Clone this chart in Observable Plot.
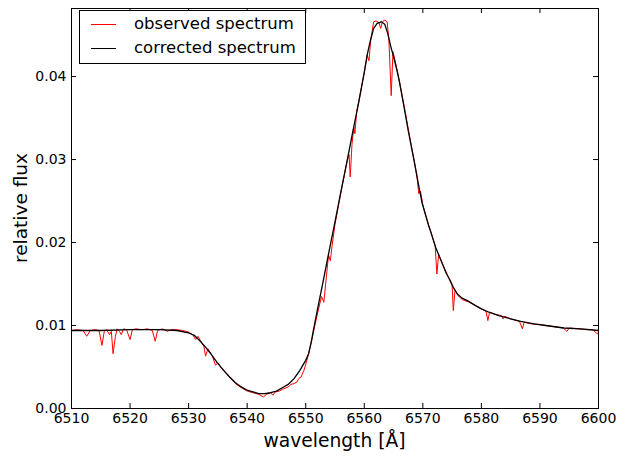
<!DOCTYPE html>
<html>
<head>
<meta charset="utf-8">
<script src="https://cdn.jsdelivr.net/npm/d3@7"></script>
<script src="https://cdn.jsdelivr.net/npm/@observablehq/plot@0.6"></script>
<style>
  html, body { margin: 0; padding: 0; background: white; }
  #wrap { position: relative; width: 626px; height: 456px; font-family: "DejaVu Sans", sans-serif; color: black; }
  #wrap svg { position: absolute; left: 0; top: 0; }
  .lbl { position: absolute; white-space: nowrap; transform: translate(-50%, -50%); line-height: 1; }
  #legend { position: absolute; left: 79px; top: 10px; width: 225px; height: 52px; border: 1px solid black; background: white; }
  .row { position: absolute; left: 0; height: 20px; width: 100%; }
  .swatch { position: absolute; left: 11px; width: 25px; top: 10px; }
  .ltext { position: absolute; left: 54px; top: 0; font-size: 16.5px; line-height: 20px; white-space: nowrap; }
</style>
</head>
<body>
<div id="wrap">
  <div id="legend">
    <div class="row" style="top:3px"><div class="swatch" style="border-top:1px solid #ff0000"></div><div class="ltext">observed spectrum</div></div>
    <div class="row" style="top:27px"><div class="swatch" style="border-top:1.3px solid black"></div><div class="ltext">corrected spectrum</div></div>
  </div>
</div>
<script>
// ---- data ----
const xTicks = [6510, 6520, 6530, 6540, 6550, 6560, 6570, 6580, 6590, 6600];
const yTicks = [0.00, 0.01, 0.02, 0.03, 0.04];
const xLabel = "wavelength [Å]";
const yLabel = "relative flux";
const seriesNames = ["observed spectrum", "corrected spectrum"];

const correctedWl = [6510, 6515, 6520, 6525, 6528, 6530, 6531, 6532, 6533, 6534, 6535, 6536, 6537, 6538, 6539, 6540, 6541, 6542, 6543, 6544, 6545, 6546, 6547, 6548, 6549, 6550, 6550.5, 6551, 6551.3, 6552, 6553, 6554, 6555, 6556, 6557, 6558, 6559, 6560, 6560.5, 6561, 6561.6, 6562.2, 6562.9, 6563.5, 6564, 6564.5, 6565, 6565.6, 6566, 6566.8, 6567.5, 6568.5, 6569.2, 6569.9, 6571, 6571.3, 6572.2, 6573, 6574, 6574.7, 6575.2, 6575.9, 6576.7, 6577.6, 6579, 6580, 6581.3, 6583, 6585, 6586.7, 6589, 6591, 6594.1, 6597, 6600];
const correctedFlux = [0.0094, 0.0094, 0.0095, 0.0095, 0.0094, 0.0091, 0.0088, 0.0081, 0.0073, 0.0064, 0.0054, 0.0046, 0.0038, 0.0031, 0.0026, 0.0022, 0.0020, 0.0018, 0.0018, 0.0019, 0.0021, 0.0025, 0.0029, 0.0036, 0.0046, 0.0058, 0.0066, 0.0082, 0.0094, 0.0119, 0.0154, 0.0190, 0.0225, 0.0261, 0.0296, 0.0332, 0.0367, 0.0405, 0.0426, 0.0442, 0.0458, 0.0464, 0.0466, 0.0463, 0.0452, 0.0437, 0.0424, 0.0407, 0.0394, 0.0363, 0.0335, 0.0299, 0.0272, 0.0247, 0.0220, 0.0214, 0.0194, 0.0180, 0.0163, 0.0154, 0.0146, 0.0138, 0.0133, 0.0130, 0.0124, 0.0120, 0.0116, 0.0112, 0.0108, 0.0105, 0.0102, 0.0100, 0.0097, 0.0096, 0.0094];

const observedWl = [6510, 6511, 6512, 6512.6, 6513.2, 6514, 6514.7, 6515.2, 6515.6, 6516, 6516.5, 6516.8, 6517.1, 6517.5, 6517.8, 6518.2, 6518.5, 6518.9, 6519.4, 6520.0, 6520.4, 6521, 6522, 6523, 6523.8, 6524.3, 6524.7, 6525.5, 6526.4, 6527, 6528, 6529, 6530, 6530.7, 6531.2, 6531.6, 6532, 6532.6, 6532.9, 6533.3, 6534, 6534.6, 6535, 6536, 6537, 6538, 6539, 6540, 6541, 6542, 6542.8, 6543.3, 6544, 6544.4, 6544.8, 6545.5, 6546, 6547, 6547.5, 6548, 6548.5, 6548.8, 6549.2, 6549.7, 6550.2, 6550.8, 6551.5, 6552, 6552.7, 6553.1, 6553.4, 6553.9, 6554.2, 6554.5, 6555, 6556, 6557, 6557.4, 6557.6, 6557.9, 6558.2, 6558.4, 6558.7, 6559, 6560, 6560.5, 6560.8, 6561.1, 6561.6, 6562, 6562.5, 6562.8, 6563.1, 6563.5, 6563.9, 6564.2, 6564.6, 6564.9, 6565.3, 6566, 6567, 6568, 6568.5, 6569, 6569.3, 6569.6, 6570, 6571, 6571.8, 6572.1, 6572.4, 6572.7, 6573.5, 6574.5, 6575.0, 6575.2, 6575.5, 6576, 6576.8, 6578, 6579, 6580, 6580.8, 6581.1, 6581.4, 6582.5, 6583.4, 6583.7, 6584, 6585, 6586.5, 6587.0, 6587.3, 6588.5, 6590, 6592, 6594, 6594.6, 6595, 6596.5, 6598, 6599, 6599.8, 6600];
const observedFlux = [0.0094, 0.0095, 0.0094, 0.0087, 0.0094, 0.0095, 0.0094, 0.0076, 0.0093, 0.0095, 0.0089, 0.0093, 0.0066, 0.0087, 0.0096, 0.0093, 0.0089, 0.0096, 0.0095, 0.0083, 0.0095, 0.0096, 0.0095, 0.0096, 0.0094, 0.0081, 0.0094, 0.0096, 0.0093, 0.0095, 0.0095, 0.0094, 0.0092, 0.0089, 0.0083, 0.0087, 0.0082, 0.0075, 0.0063, 0.0072, 0.0064, 0.0052, 0.0055, 0.0045, 0.0038, 0.0030, 0.0025, 0.0021, 0.0019, 0.0017, 0.0014, 0.0017, 0.0019, 0.0016, 0.0020, 0.0021, 0.0023, 0.0026, 0.0029, 0.0030, 0.0032, 0.0036, 0.0038, 0.0046, 0.0058, 0.0075, 0.0098, 0.0114, 0.0135, 0.0128, 0.0150, 0.0185, 0.0178, 0.0196, 0.0222, 0.0260, 0.0296, 0.0306, 0.0279, 0.0318, 0.0339, 0.0331, 0.0358, 0.0368, 0.0405, 0.0426, 0.0419, 0.0444, 0.0466, 0.0467, 0.0465, 0.0458, 0.0466, 0.0468, 0.0466, 0.0445, 0.0377, 0.0430, 0.0418, 0.0394, 0.0357, 0.0318, 0.0299, 0.0280, 0.0259, 0.0262, 0.0245, 0.0221, 0.0203, 0.0196, 0.0162, 0.0186, 0.0172, 0.0156, 0.0148, 0.0118, 0.0143, 0.0136, 0.0131, 0.0128, 0.0124, 0.0120, 0.0117, 0.0106, 0.0116, 0.0113, 0.0112, 0.0108, 0.0111, 0.0108, 0.0105, 0.0096, 0.0104, 0.0102, 0.0101, 0.0099, 0.0097, 0.0093, 0.0097, 0.0096, 0.0095, 0.0095, 0.0090, 0.0092];

// ---- build tables ----
const corrected = correctedWl.map((w, i) => ({w, f: correctedFlux[i]}));
const observed = observedWl.map((w, i) => ({w, f: observedFlux[i]}));

const W = 626, H = 456, mL = 71, mR = 28, mT = 8, mB = 48;
const fw = W - mL - mR, fh = H - mT - mB, tl = 5;

const chart = Plot.plot({
  width: W, height: H,
  marginLeft: mL, marginRight: mR, marginTop: mT, marginBottom: mB,
  style: {fontFamily: "DejaVu Sans", fontSize: "14px", color: "black", background: "white", overflow: "visible"},
  x: {domain: [6510, 6600]},
  y: {domain: [0, 0.0482]},
  marks: [
    Plot.line(observed, {x: "w", y: "f", stroke: "#ff0000", strokeWidth: 1}),
    Plot.line(corrected, {x: "w", y: "f", stroke: "black", strokeWidth: 1.3}),
    Plot.tickX(xTicks, {x: d => d, insetTop: fh - tl, stroke: "black"}),
    Plot.tickX(xTicks, {x: d => d, insetBottom: fh - tl, stroke: "black"}),
    Plot.tickY(yTicks, {y: d => d, insetRight: fw - tl, stroke: "black"}),
    Plot.tickY(yTicks, {y: d => d, insetLeft: fw - tl, stroke: "black"}),
    Plot.axisX({ticks: xTicks, tickSize: 0, tickPadding: 5, tickFormat: d3.format("d"), label: null, fontSize: 14}),
    Plot.axisY({ticks: yTicks, tickSize: 0, tickPadding: 5, tickFormat: d3.format(".2f"), label: null, fontSize: 14}),
    Plot.frame({stroke: "black", strokeWidth: 1})
  ]
});

const wrap = document.getElementById("wrap");
wrap.insertBefore(chart, wrap.firstChild);

const xl = document.createElement("div");
xl.className = "lbl";
xl.style.left = (mL + fw / 2) + "px";
xl.style.top = "441px";
xl.style.fontSize = "18.7px";
xl.textContent = xLabel;
wrap.appendChild(xl);

const yl = document.createElement("div");
yl.className = "lbl";
yl.style.left = "21px";
yl.style.top = (mT + fh / 2) + "px";
yl.style.fontSize = "18.5px";
yl.style.transform = "translate(-50%, -50%) rotate(-90deg)";
yl.textContent = yLabel;
wrap.appendChild(yl);

const leg = document.querySelectorAll(".ltext");
leg[0].textContent = seriesNames[0];
leg[1].textContent = seriesNames[1];
wrap.appendChild(document.getElementById("legend"));
</script>
</body>
</html>
